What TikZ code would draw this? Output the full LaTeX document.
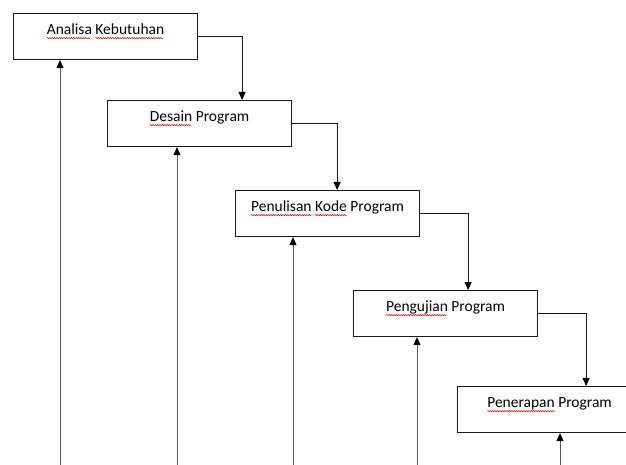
\documentclass[tikz,border=0pt]{standalone}
\usepackage{fontspec}
\setmainfont{Carlito}
\usetikzlibrary{arrows.meta}

\newsavebox\wavemark
\newsavebox\wordbox
\AtBeginDocument{\sbox\wavemark{\begin{pgfpicture}
  \pgfpathrectanglecorners{\pgfpointorigin}{\pgfpoint{2.4pt}{0pt}}\pgfusepath{use as bounding box}
  \pgfsetlinewidth{.5pt}\pgfsetstrokecolor{red}
  \pgfpathmoveto{\pgfpoint{0pt}{-3.6pt}}
  \pgfpathsine{\pgfpoint{.6pt}{.7pt}}\pgfpathcosine{\pgfpoint{.6pt}{-.7pt}}
  \pgfpathsine{\pgfpoint{.6pt}{-.7pt}}\pgfpathcosine{\pgfpoint{.6pt}{.7pt}}
  \pgfusepath{stroke}
\end{pgfpicture}}}
\newcommand\spell[1]{\sbox\wordbox{#1}\rlap{\leaders\copy\wavemark\hskip\wd\wordbox}\usebox\wordbox}

\tikzset{
  stage/.style={draw=black!90,line width=1.1pt,anchor=north west,minimum width=184pt,
    inner xsep=0pt,inner ysep=0pt,text height=21pt,text depth=25pt,
    font=\fontsize{15.5}{18}\selectfont},
  flow/.style={draw=black!90,line width=1pt,-{Triangle[width=7pt,length=8pt,color=black]}},
  back/.style={flow,draw=black!65}
}

\begin{document}
\begin{tikzpicture}[x=1pt,y=-1pt]
\useasboundingbox (0,0) rectangle (626,465);
\clip (0,0) rectangle (626,465);
\node[stage] (ana) at (13,13) {\spell{Analisa} \spell{Kebutuhan}};
\node[stage] (des) at (107,100) {\spell{Desain} Program};
\node[stage] (kode) at (235,190) {\spell{Penulisan} \spell{Kode} Program};
\node[stage] (uji) at (353,290) {\spell{Pengujian} Program};
\node[stage] (terap) at (457,386) {\spell{Penerapan} Program};

\coordinate (k1) at ([xshift=44pt]ana.east);
\coordinate (k2) at ([xshift=45pt]des.east);
\coordinate (k3) at ([xshift=48pt]kode.east);
\coordinate (k4) at ([xshift=48pt]uji.east);
\draw[flow] (ana.east) -- (k1) -- (k1 |- des.north);
\draw[flow] (des.east) -- (k2) -- (k2 |- kode.north);
\draw[flow] (kode.east) -- (k3) -- (k3 |- uji.north);
\draw[flow] (uji.east) -- (k4) -- (k4 |- terap.north);

\coordinate (u1) at (60,470);
\coordinate (u2) at (177,470);
\coordinate (u3) at (293,470);
\coordinate (u4) at (417,470);
\coordinate (u5) at (560,470);
\draw[back] (u1) -- (u1 |- ana.south);
\draw[back] (u2) -- (u2 |- des.south);
\draw[back] (u3) -- (u3 |- kode.south);
\draw[back] (u4) -- (u4 |- uji.south);
\draw[back] (u5) -- (u5 |- terap.south);
\end{tikzpicture}
\end{document}
